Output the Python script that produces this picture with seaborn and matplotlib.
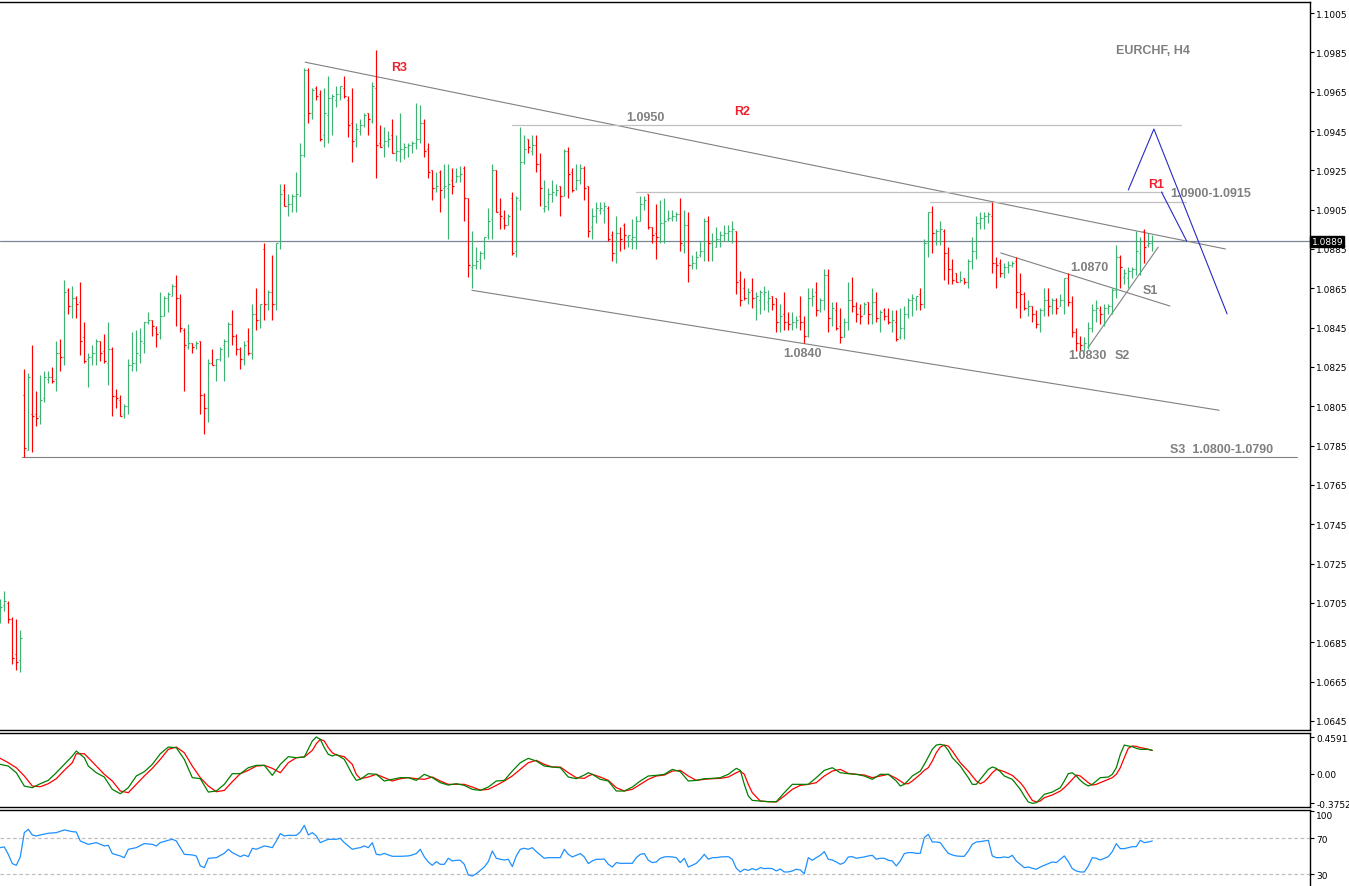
import numpy as np
import pandas as pd
import matplotlib
matplotlib.use("Agg")
import matplotlib.pyplot as plt
import matplotlib.transforms as mtransforms
import seaborn as sns

# EURCHF, H4 bars -- prices kept in pips (1/10000), one entry per bar
opens = [10699, 10704, 10705, 10697, 10679, 10676,
         10811, 10783, 10801, 10801, 10800, 10809, 10819, 10820, 10819, 10832,
         10830, 10864, 10856, 10860, 10858, 10840, 10829, 10830, 10832, 10838,
         10833, 10827, 10834, 10810, 10808, 10801, 10805, 10826, 10827, 10831,
         10837, 10848, 10849, 10845, 10843, 10851, 10860, 10861, 10866, 10860,
         10844, 10835, 10837, 10836, 10838, 10811, 10804, 10827, 10826, 10829,
         10836, 10838, 10847, 10841, 10834, 10829, 10838, 10832, 10852, 10849,
         10885, 10857, 10863, 10857, 10889, 10915, 10907, 10908, 10912, 10912,
         10933, 10976, 10954, 10967, 10964, 10943, 10953, 10962, 10961, 10964,
         10967, 10961, 10949, 10941, 10945, 10948, 10954, 10950, 10967, 10939,
         10938, 10940, 10943, 10934, 10935, 10936, 10937, 10938, 10939, 10941,
         10949, 10936, 10925, 10916, 10924, 10916, 10916,
         10920, 10919, 10922, 10926, 10911, 10876, 10877, 10880, 10883, 10892,
         10900, 10925, 10903, 10901, 10897, 10911, 10884, 10910, 10929, 10941,
         10935, 10938, 10928, 10906, 10909, 10913, 10913, 10917, 10912, 10935,
         10924, 10916, 10920, 10926, 10917, 10896, 10902, 10905, 10905, 10906,
         10892, 10883, 10893, 10897, 10891, 10890, 10891, 10899, 10908, 10913,
         10896, 10893, 10891, 10898, 10900, 10901, 10902, 10903, 10887, 10897,
         10877, 10878, 10882, 10884, 10899, 10888, 10886, 10890, 10892, 10893,
         10894, 10894, 10869, 10865, 10860, 10864, 10860, 10859, 10862, 10858,
         10861, 10860, 10848, 10852, 10848, 10847, 10848, 10851, 10848, 10841,
         10860, 10863, 10854, 10859, 10872, 10850, 10854, 10846, 10840, 10848,
         10859, 10856, 10855, 10852, 10858, 10852, 10858, 10850, 10854, 10851,
         10848, 10848, 10840, 10845, 10852, 10859, 10859, 10862, 10857, 10888,
         10904, 10893, 10894, 10894, 10883, 10875, 10873, 10868, 10870, 10868,
         10879, 10884, 10898, 10901, 10902, 10902, 10878, 10878, 10873, 10876,
         10877, 10879, 10863, 10862, 10855, 10856, 10852, 10847, 10854, 10859,
         10856, 10859, 10856, 10859, 10870, 10858, 10843, 10837, 10836, 10835,
         10845, 10854, 10854, 10852, 10855, 10856, 10864, 10881, 10871, 10870,
         10874, 10875, 10883, 10894, 10887, 10888]
highs = [10707, 10711, 10706, 10698, 10697, 10691,
         10824, 10822, 10836, 10813, 10821, 10823, 10823, 10825, 10838, 10839,
         10869, 10865, 10866, 10861, 10868, 10848, 10832, 10836, 10839, 10838,
         10842, 10848, 10835, 10814, 10811, 10806, 10829, 10843, 10844, 10845,
         10848, 10853, 10849, 10846, 10863, 10861, 10863, 10867, 10872, 10862,
         10845, 10847, 10837, 10838, 10838, 10812, 10829, 10834, 10829, 10835,
         10839, 10848, 10854, 10842, 10835, 10838, 10845, 10857, 10865, 10857,
         10888, 10864, 10882, 10888, 10918, 10918, 10913, 10913, 10924, 10939,
         10977, 10977, 10967, 10968, 10966, 10967, 10973, 10964, 10968, 10968,
         10973, 10963, 10967, 10949, 10951, 10954, 10954, 10970, 10986, 10948,
         10947, 10945, 10951, 10943, 10954, 10939, 10939, 10940, 10959, 10958,
         10951, 10939, 10925, 10924, 10925, 10928, 10928,
         10926, 10926, 10927, 10927, 10911, 10894, 10886, 10884, 10891, 10906,
         10928, 10925, 10911, 10905, 10903, 10914, 10912, 10947, 10943, 10941,
         10943, 10943, 10934, 10920, 10916, 10920, 10918, 10917, 10936, 10937,
         10926, 10928, 10928, 10927, 10917, 10906, 10909, 10909, 10909, 10907,
         10894, 10902, 10896, 10898, 10892, 10900, 10902, 10912, 10912, 10913,
         10896, 10908, 10910, 10911, 10905, 10905, 10904, 10911, 10905, 10904,
         10882, 10884, 10889, 10901, 10902, 10893, 10896, 10894, 10897, 10897,
         10899, 10894, 10874, 10870, 10865, 10870, 10863, 10864, 10866, 10864,
         10861, 10860, 10857, 10863, 10853, 10853, 10851, 10861, 10851, 10865,
         10865, 10868, 10860, 10875, 10875, 10858, 10858, 10855, 10850, 10868,
         10871, 10858, 10857, 10858, 10858, 10865, 10863, 10854, 10855, 10855,
         10854, 10854, 10855, 10856, 10860, 10862, 10861, 10865, 10890, 10904,
         10907, 10895, 10899, 10895, 10886, 10880, 10873, 10874, 10870, 10880,
         10891, 10902, 10904, 10904, 10904, 10909, 10881, 10880, 10878, 10879,
         10879, 10881, 10873, 10863, 10859, 10856, 10854, 10855, 10865, 10865,
         10860, 10860, 10862, 10870, 10873, 10861, 10845, 10841, 10840, 10848,
         10857, 10859, 10856, 10857, 10857, 10865, 10887, 10882, 10875, 10876,
         10876, 10894, 10891, 10895, 10893, 10892]
lows = [10695, 10701, 10695, 10674, 10671, 10670,
        10779, 10783, 10782, 10795, 10796, 10807, 10817, 10817, 10813, 10823,
        10826, 10852, 10850, 10850, 10831, 10827, 10815, 10826, 10826, 10828,
        10827, 10816, 10800, 10804, 10800, 10799, 10801, 10823, 10823, 10827,
        10832, 10847, 10841, 10835, 10839, 10851, 10853, 10861, 10846, 10843,
        10813, 10834, 10832, 10834, 10801, 10791, 10797, 10826, 10818, 10828,
        10818, 10830, 10836, 10831, 10824, 10826, 10831, 10829, 10844, 10845,
        10849, 10854, 10849, 10854, 10885, 10907, 10902, 10904, 10904, 10912,
        10932, 10949, 10951, 10961, 10940, 10937, 10939, 10943, 10957, 10961,
        10962, 10942, 10929, 10937, 10943, 10947, 10943, 10949, 10921, 10937,
        10932, 10937, 10934, 10930, 10929, 10931, 10932, 10934, 10936, 10939,
        10932, 10921, 10910, 10914, 10904, 10911, 10890,
        10913, 10919, 10919, 10899, 10871, 10865, 10875, 10875, 10880, 10890,
        10890, 10904, 10895, 10895, 10897, 10882, 10881, 10905, 10928, 10934,
        10933, 10924, 10907, 10904, 10905, 10909, 10912, 10902, 10912, 10911,
        10914, 10915, 10918, 10910, 10891, 10890, 10898, 10903, 10898, 10889,
        10879, 10878, 10884, 10885, 10886, 10885, 10885, 10899, 10905, 10895,
        10888, 10880, 10888, 10888, 10899, 10899, 10899, 10884, 10883, 10868,
        10875, 10875, 10881, 10879, 10879, 10879, 10886, 10886, 10889, 10889,
        10888, 10862, 10856, 10859, 10857, 10855, 10849, 10852, 10854, 10853,
        10854, 10843, 10843, 10844, 10844, 10844, 10845, 10844, 10837, 10840,
        10856, 10851, 10853, 10854, 10843, 10846, 10844, 10837, 10840, 10844,
        10853, 10848, 10847, 10852, 10847, 10847, 10848, 10843, 10849, 10847,
        10843, 10838, 10839, 10839, 10850, 10851, 10854, 10854, 10855, 10881,
        10883, 10887, 10887, 10869, 10867, 10867, 10868, 10868, 10867, 10865,
        10875, 10880, 10895, 10895, 10898, 10873, 10865, 10871, 10870, 10873,
        10876, 10855, 10850, 10854, 10851, 10848, 10845, 10843, 10851, 10851,
        10852, 10852, 10856, 10852, 10856, 10840, 10833, 10833, 10833, 10834,
        10843, 10848, 10847, 10846, 10852, 10852, 10860, 10865, 10867, 10865,
        10870, 10872, 10872, 10878, 10886, 10884]
closes = [10703, 10706, 10697, 10677, 10675, 10687,
          10784, 10820, 10800, 10799, 10808, 10820, 10820, 10818, 10832, 10830,
          10863, 10856, 10860, 10857, 10838, 10828, 10830, 10832, 10838, 10832,
          10828, 10834, 10810, 10809, 10800, 10805, 10826, 10827, 10832, 10838,
          10848, 10849, 10846, 10842, 10851, 10860, 10862, 10866, 10860, 10845,
          10836, 10837, 10835, 10837, 10811, 10804, 10827, 10826, 10829, 10834,
          10838, 10847, 10841, 10834, 10829, 10836, 10832, 10852, 10849, 10857,
          10857, 10863, 10857, 10888, 10913, 10907, 10908, 10912, 10913, 10933,
          10976, 10954, 10966, 10963, 10941, 10954, 10962, 10963, 10964, 10968,
          10963, 10948, 10940, 10946, 10948, 10953, 10951, 10968, 10938, 10937,
          10940, 10941, 10934, 10935, 10936, 10937, 10938, 10939, 10941, 10949,
          10935, 10924, 10916, 10917, 10915, 10917, 10918,
          10917, 10922, 10923, 10911, 10877, 10877, 10879, 10883, 10891, 10899,
          10925, 10904, 10902, 10897, 10902, 10883, 10911, 10929, 10936, 10937,
          10938, 10928, 10916, 10907, 10913, 10914, 10915, 10912, 10935, 10923,
          10915, 10920, 10926, 10916, 10894, 10902, 10906, 10906, 10907, 10890,
          10883, 10893, 10890, 10892, 10892, 10891, 10899, 10908, 10910, 10896,
          10892, 10891, 10898, 10899, 10901, 10902, 10903, 10888, 10897, 10877,
          10878, 10881, 10884, 10899, 10888, 10889, 10890, 10892, 10893, 10894,
          10895, 10868, 10859, 10860, 10863, 10860, 10861, 10863, 10863, 10860,
          10857, 10848, 10851, 10848, 10847, 10848, 10849, 10848, 10841, 10860,
          10861, 10854, 10859, 10872, 10850, 10855, 10845, 10840, 10848, 10859,
          10856, 10852, 10851, 10857, 10852, 10858, 10850, 10853, 10851, 10848,
          10849, 10839, 10845, 10852, 10859, 10860, 10861, 10857, 10888, 10904,
          10893, 10894, 10895, 10883, 10875, 10869, 10868, 10869, 10868, 10879,
          10884, 10898, 10901, 10902, 10903, 10878, 10877, 10873, 10876, 10877,
          10878, 10863, 10862, 10855, 10856, 10852, 10847, 10854, 10859, 10856,
          10859, 10855, 10859, 10870, 10858, 10843, 10837, 10836, 10837, 10845,
          10854, 10855, 10852, 10855, 10856, 10864, 10881, 10876, 10873, 10874,
          10875, 10884, 10889, 10886, 10888, 10889]

# oscillator panel: main (green) and signal (red), read at these bars
osc_bar = [0, 2, 4, 6, 8, 10, 12, 14, 16, 18, 19, 21, 22, 24, 26, 28, 30, 32, 34, 36,
           38, 40, 42, 44, 46, 48, 50, 52, 54, 56, 58, 60, 62, 64, 66, 68, 70, 72, 74, 76,
           78, 79, 80, 81, 82, 83, 84, 86, 88, 89, 90, 92, 94, 96, 98, 100, 102, 104, 106, 108,
           110, 112, 114, 116, 118, 120, 122, 124, 126, 128, 130, 132, 134, 136, 138, 140, 142, 144, 146, 147,
           148, 150, 152, 154, 156, 158, 160, 162, 164, 166, 168, 170, 172, 174, 176, 178, 180, 182, 184, 185,
           186, 187, 188, 190, 192, 194, 196, 198, 200, 202, 204, 206, 208, 210, 212, 214, 216, 218, 220, 222,
           224, 225, 226, 227, 228, 230, 231, 232, 233, 234, 235, 236, 237, 238, 240, 242, 243, 244, 245, 246,
           247, 248, 249, 250, 251, 253, 255, 256, 257, 258, 259, 260, 261, 263, 265, 266, 267, 268, 269, 270,
           271, 272, 273, 274, 275, 277, 278, 279, 280, 281, 282, 283, 284, 285, 286, 287, 288]
osc_main = [0.115, 0.094, 0.010, -0.157, -0.178, -0.128, -0.086, 0.010, 0.115, 0.220, 0.283, 0.199, 0.094, 0.010, -0.044, -0.199, -0.254, -0.178, -0.031, 0.023,
            0.115, 0.249, 0.333, 0.325, 0.178, -0.052, -0.065, -0.233, -0.220, -0.136, -0.002, -0.002, 0.073, 0.103, 0.103, -0.023, 0.115, 0.212, 0.199, 0.208,
            0.409, 0.459, 0.430, 0.325, 0.241, 0.220, 0.241, 0.178, -0.010, -0.086, -0.073, -0.002, -0.010, -0.094, -0.073, -0.052, -0.052, -0.086, -0.010, -0.052,
            -0.115, -0.145, -0.128, -0.149, -0.199, -0.212, -0.170, -0.094, -0.086, 0.031, 0.136, 0.191, 0.157, 0.094, 0.082, 0.073, -0.044, -0.065, -0.019, 0.010,
            -0.010, -0.073, -0.094, -0.220, -0.220, -0.170, -0.094, -0.031, -0.023, -0.010, 0.052, 0.023, -0.094, -0.086, -0.065, -0.061, -0.052, -0.010, 0.065, 0.040,
            -0.136, -0.283, -0.338, -0.346, -0.354, -0.354, -0.241, -0.136, -0.136, -0.136, -0.052, 0.040, 0.073, 0.010, -0.002, -0.010, -0.031, -0.073, -0.010, -0.010,
            -0.094, -0.157, -0.136, -0.086, -0.031, 0.031, 0.115, 0.208, 0.304, 0.358, 0.367, 0.354, 0.291, 0.199, 0.094, -0.052, -0.136, -0.136, -0.073, -0.010,
            0.052, 0.082, 0.065, 0.023, -0.031, -0.073, -0.199, -0.283, -0.358, -0.375, -0.367, -0.317, -0.262, -0.233, -0.178, -0.094, -0.002, 0.010, -0.031, -0.086,
            -0.128, -0.157, -0.136, -0.094, -0.052, -0.044, -0.010, 0.073, 0.241, 0.358, 0.346, 0.338, 0.317, 0.304, 0.304, 0.304, 0.291]
osc_signal = [0.191, 0.136, 0.073, -0.031, -0.157, -0.166, -0.128, -0.065, 0.040, 0.136, 0.249, 0.249, 0.199, 0.094, -0.010, -0.094, -0.220, -0.241, -0.136, -0.031,
              0.065, 0.178, 0.304, 0.333, 0.262, 0.094, -0.052, -0.157, -0.229, -0.212, -0.103, -0.002, 0.040, 0.094, 0.103, 0.065, 0.010, 0.136, 0.199, 0.208,
              0.291, 0.375, 0.430, 0.409, 0.325, 0.262, 0.233, 0.212, 0.115, -0.010, -0.065, -0.044, -0.010, -0.052, -0.094, -0.065, -0.052, -0.065, -0.073, -0.044,
              -0.094, -0.136, -0.136, -0.136, -0.170, -0.208, -0.199, -0.149, -0.094, -0.031, 0.052, 0.136, 0.166, 0.115, 0.082, 0.082, 0.010, -0.052, -0.061, -0.031,
              -0.010, -0.044, -0.086, -0.178, -0.220, -0.199, -0.136, -0.073, -0.031, -0.019, 0.031, 0.040, -0.031, -0.086, -0.073, -0.065, -0.061, -0.044, 0.010, 0.031,
              -0.010, -0.136, -0.241, -0.346, -0.354, -0.358, -0.283, -0.199, -0.149, -0.136, -0.115, -0.031, 0.031, 0.052, 0.002, -0.010, -0.019, -0.052, -0.031, -0.010,
              -0.061, -0.094, -0.128, -0.128, -0.094, -0.010, 0.040, 0.073, 0.157, 0.262, 0.333, 0.358, 0.346, 0.283, 0.136, 0.031, -0.031, -0.094, -0.128, -0.103,
              -0.052, 0.010, 0.052, 0.040, 0.023, -0.023, -0.115, -0.178, -0.262, -0.338, -0.358, -0.346, -0.304, -0.270, -0.220, -0.178, -0.128, -0.073, -0.019, -0.031,
              -0.073, -0.115, -0.145, -0.136, -0.115, -0.073, -0.052, -0.010, 0.073, 0.199, 0.317, 0.346, 0.342, 0.325, 0.317, 0.304, 0.291]

# RSI panel
rsi_bar = [0, 1, 2, 3, 4, 5, 6, 7, 8, 9, 10, 12, 14, 16, 18, 19, 20, 22, 24, 26,
           27, 28, 30, 31, 32, 34, 36, 38, 39, 40, 42, 43, 44, 46, 48, 49, 50, 51, 52, 54,
           56, 57, 58, 60, 61, 62, 63, 64, 66, 67, 68, 69, 70, 71, 72, 74, 75, 76, 77, 78,
           79, 80, 82, 84, 85, 86, 87, 88, 89, 90, 91, 92, 93, 94, 95, 96, 97, 98, 100, 102,
           103, 104, 105, 106, 107, 108, 109, 110, 111, 112, 113, 114, 115, 116, 117, 118, 119, 120, 121, 122,
           123, 124, 125, 126, 127, 128, 129, 130, 131, 132, 133, 134, 135, 136, 137, 139, 140, 141, 142, 143,
           144, 145, 146, 147, 148, 149, 150, 151, 152, 153, 154, 155, 158, 159, 160, 161, 162, 163, 164, 165,
           166, 167, 168, 169, 170, 171, 172, 173, 174, 175, 176, 177, 178, 179, 180, 182, 183, 184, 185, 186,
           187, 188, 189, 190, 191, 192, 193, 194, 195, 196, 197, 198, 199, 200, 201, 202, 203, 204, 205, 206,
           207, 208, 209, 210, 211, 212, 213, 214, 215, 216, 217, 218, 219, 220, 221, 222, 223, 224, 225, 226,
           227, 228, 229, 230, 231, 232, 233, 234, 235, 236, 237, 238, 239, 240, 241, 242, 243, 244, 245, 246,
           247, 248, 249, 250, 251, 252, 253, 254, 255, 256, 257, 258, 259, 260, 261, 262, 263, 264, 265, 266,
           267, 268, 269, 270, 271, 272, 273, 274, 275, 276, 277, 278, 279, 280, 281, 282, 283, 284, 285, 286,
           287, 288]
rsi_val = [59.6, 60.4, 52.2, 41.9, 40.0, 49.3, 76.3, 80.0, 73.7, 72.6, 73.7, 75.6, 76.3, 79.3, 77.4, 77.0, 67.0, 63.3, 65.2, 61.5,
           62.2, 53.0, 50.4, 48.5, 57.8, 59.6, 64.1, 63.3, 61.5, 65.2, 67.8, 68.9, 67.0, 52.2, 51.5, 50.4, 39.3, 37.4, 47.8, 48.5,
           53.3, 57.8, 54.1, 49.6, 51.5, 49.6, 58.9, 57.8, 61.5, 60.7, 59.6, 67.0, 75.2, 72.6, 73.3, 73.3, 77.0, 84.4, 73.7, 76.3,
           72.6, 65.2, 68.9, 68.9, 70.0, 65.2, 61.5, 57.8, 58.9, 59.6, 61.5, 59.6, 65.2, 52.2, 51.5, 53.3, 51.5, 50.0, 50.0, 50.4,
           51.5, 53.0, 57.8, 49.3, 43.7, 40.0, 44.1, 41.1, 41.1, 47.8, 44.8, 45.6, 45.6, 41.1, 29.3, 28.1, 30.7, 34.4, 38.1, 44.1,
           55.9, 47.8, 46.7, 45.9, 46.7, 38.5, 50.4, 57.8, 58.9, 57.8, 59.6, 55.2, 51.5, 47.8, 48.5, 48.5, 48.5, 57.8, 52.2, 49.3,
           51.1, 53.0, 49.3, 41.9, 44.8, 46.7, 46.7, 47.0, 41.1, 38.1, 43.0, 42.2, 42.2, 48.5, 52.2, 53.0, 45.6, 43.0, 43.7, 47.8,
           49.3, 49.6, 49.3, 48.5, 43.0, 47.8, 38.1, 40.0, 42.2, 46.7, 52.2, 46.7, 48.5, 48.5, 49.3, 49.6, 46.7, 36.7, 32.6, 35.6,
           34.4, 36.3, 34.8, 37.4, 36.3, 36.7, 36.3, 33.7, 35.9, 32.6, 32.6, 33.7, 35.6, 34.8, 30.7, 48.5, 45.6, 48.5, 51.1, 55.2,
           46.7, 45.9, 43.7, 41.1, 43.0, 49.3, 49.6, 47.8, 48.5, 49.3, 50.4, 51.1, 46.7, 47.8, 47.8, 45.6, 44.8, 39.3, 44.8, 53.0,
           54.1, 54.1, 53.3, 53.3, 70.7, 74.4, 65.9, 65.9, 65.2, 58.9, 53.3, 51.5, 50.4, 50.0, 50.0, 55.9, 63.3, 65.9, 66.3, 67.0,
           67.8, 50.4, 48.5, 48.5, 49.3, 48.5, 51.1, 44.8, 41.1, 37.4, 38.1, 36.7, 35.6, 38.1, 40.0, 41.9, 43.7, 43.0, 46.7, 50.4,
           44.1, 36.3, 33.7, 32.6, 32.6, 39.3, 48.5, 47.8, 45.9, 47.8, 49.6, 55.2, 64.1, 58.5, 58.5, 59.6, 60.7, 60.7, 67.8, 65.2,
           65.9, 67.0]

last_price = 1.0889
price_ticks = [1.1005, 1.0985, 1.0965, 1.0945, 1.0925, 1.0905, 1.0885, 1.0865, 1.0845,
               1.0825, 1.0805, 1.0785, 1.0765, 1.0745, 1.0725, 1.0705, 1.0685, 1.0665, 1.0645]
osc_ticks = [0.4591, 0.0, -0.3752]
osc_tick_labels = ["0.4591", "0.00", "-0.3752"]
rsi_ticks = [100, 70, 30]

# analyst drawings: (bar, price) end points
grey_lines = [((76.2, 1.0980), (306.3, 1.0885)),   # upper channel (R3)
              ((117.9, 1.0864), (304.7, 1.0803)),  # lower channel
              ((250.1, 1.0883), (292.4, 1.0856)),  # S1 line
              ((272.0, 1.0835), (289.5, 1.0886)),  # S2 rising line
              ((5.4, 1.0779), (324.2, 1.0779))]    # S3 level
level_lines = [((127.9, 1.0948), (295.2, 1.0948)),  # R2 1.0950
               ((158.9, 1.0914), (290.7, 1.0914)),  # 1.0915
               ((232.4, 1.0909), (296.4, 1.0909))]  # 1.0900
blue_paths = [[(282.0, 1.0915), (288.4, 1.0946), (306.7, 1.0852)],
              [(290.3, 1.0914), (296.6, 1.0889)]]
labels = [("R3", 99.6, 1.09775, "#f0202c"), ("R2", 185.4, 1.0955, "#f0202c"),
          ("R1", 288.9, 1.09178, "#f0202c"), ("1.0950", 161.4, 1.09521, "#808080"),
          ("1.0900-1.0915", 302.6, 1.09133, "#808080"), ("1.0870", 272.3, 1.08757, "#808080"),
          ("S1", 287.4, 1.08644, "#808080"), ("1.0840", 200.6, 1.08321, "#808080"),
          ("1.0830", 271.9, 1.08313, "#808080"), ("S2", 280.4, 1.0831, "#808080"),
          ("S3  1.0800-1.0790", 305.2, 1.07832, "#808080"), ("EURCHF, H4", 288.2, 1.09863, "#808080")]

sns.set_theme(style="white")
plt.rcParams["font.family"] = ["DejaVu Sans"]

bars = pd.DataFrame({"open": opens, "high": highs, "low": lows, "close": closes}) / 10000.0
bars["high"] = bars[["open", "high", "close"]].max(axis=1)
bars["low"] = bars[["open", "low", "close"]].min(axis=1)
bars["x"] = np.arange(len(bars))
colors = np.where(bars["close"] >= bars["open"], "#3cb371", "#ff0000")

W, H = 1349, 887
fig = plt.figure(figsize=(W / 100, H / 100), dpi=100)
fig.patch.set_facecolor("white")
right = 1309.5 / W
ax = fig.add_axes([0, 1 - 731 / H, right, 728 / H])
ax2 = fig.add_axes([0, 1 - 808 / H, right, 74.5 / H])
ax3 = fig.add_axes([0, 0, right, (H - 810.5) / H])
xlim = (-0.075, 327.3)

# price bars
ax.vlines(bars["x"], bars["low"], bars["high"], colors=colors, lw=0.85, zorder=3)
ax.hlines(bars["open"], bars["x"] - 0.32, bars["x"], colors=colors, lw=0.85, zorder=3)
ax.hlines(bars["close"], bars["x"], bars["x"] + 0.32, colors=colors, lw=0.85, zorder=3)

ax.axhline(last_price, color="#7a8796", lw=0.9, zorder=2)
for (x0, y0), (x1, y1) in grey_lines:
    ax.plot([x0, x1], [y0, y1], color="#808080", lw=0.8, zorder=2)
for (x0, y0), (x1, y1) in level_lines:
    ax.plot([x0, x1], [y0, y1], color="#c0c0c0", lw=0.9, zorder=2)
for path in blue_paths:
    xs, ys = zip(*path)
    ax.plot(xs, ys, color="#2a2ac8", lw=0.8, zorder=4)
for txt, x, y, c in labels:
    ax.text(x, y, txt, color=c, fontsize=9, fontweight="bold", ha="center", va="center",
            family=["Liberation Sans", "DejaVu Sans"], zorder=5)

ax.set_xlim(*xlim)
ax.set_ylim(1.06404, 1.10106)
ax.set_xticks([])
ax.yaxis.tick_right()
ax.set_yticks(price_ticks)
ax.set_yticklabels([f"{t:.4f}" for t in price_ticks])

# current price tag
trans = mtransforms.blended_transform_factory(ax.transAxes, ax.transData)
ax.text(1.0015, last_price, f"{last_price:.4f}", transform=trans, color="white", fontsize=6.5,
        ha="left", va="center", zorder=10, clip_on=False,
        bbox=dict(boxstyle="square,pad=0.12", fc="black", ec="black"))

# oscillator
sns.lineplot(x=osc_bar, y=osc_signal, ax=ax2, color="#ff0000", lw=0.9, legend=False)
sns.lineplot(x=osc_bar, y=osc_main, ax=ax2, color="#008000", lw=0.9, legend=False)
ax2.set_xlim(*xlim)
ax2.set_ylim(-0.421, 0.516)
ax2.set_xticks([])
ax2.yaxis.tick_right()
ax2.set_yticks(osc_ticks)
ax2.set_yticklabels(osc_tick_labels)

# RSI
ax3.axhline(70, color="#c0c0c0", lw=0.9, ls=(0, (3, 2)))
ax3.axhline(30, color="#c0c0c0", lw=0.9, ls=(0, (3, 2)))
sns.lineplot(x=rsi_bar, y=rsi_val, ax=ax3, color="#1e90ff", lw=0.9, legend=False)
ax3.set_xlim(*xlim)
ax3.set_ylim(17, 102)
ax3.set_xticks([])
ax3.yaxis.tick_right()
ax3.set_yticks(rsi_ticks)
ax3.set_yticklabels([str(t) for t in rsi_ticks])
ax3.get_yticklabels()[0].set_va("top")

for a in (ax, ax2, ax3):
    a.set_facecolor("white")
    a.set_xlabel("")
    a.set_ylabel("")
    a.grid(False)
    a.tick_params(axis="y", which="both", direction="out", length=3, width=0.8,
                  labelsize=6.5, pad=2, colors="black", right=True, left=False)
    for side, sp in a.spines.items():
        sp.set_color("black")
        sp.set_linewidth(1.0)
    a.spines["left"].set_visible(False)
ax3.spines["bottom"].set_visible(False)

fig.savefig("out.png", dpi=100, facecolor="white")
